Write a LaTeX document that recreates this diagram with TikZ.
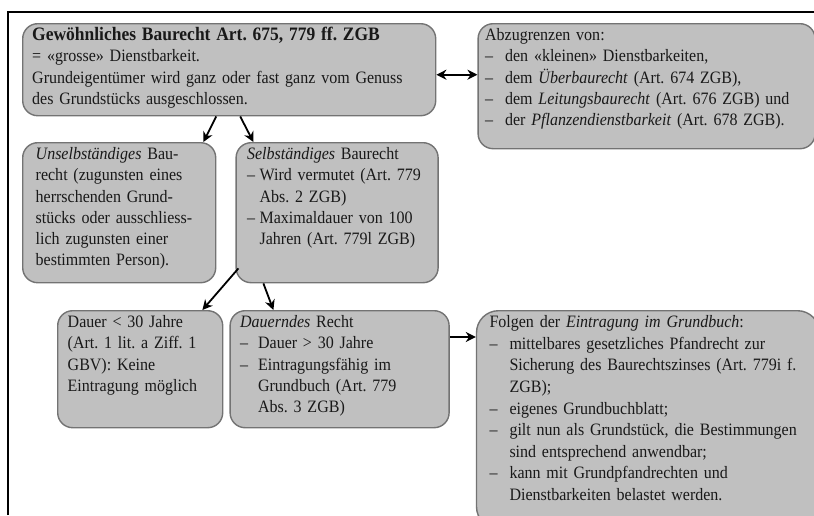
\documentclass[tikz,border=0pt]{standalone}
\usepackage{fontspec}
\setmainfont[FakeStretch=0.92]{Liberation Serif}
\usetikzlibrary{arrows.meta,positioning}
\definecolor{kastengrau}{RGB}{192,192,192}
\definecolor{rahmengrau}{RGB}{115,115,115}
\definecolor{schrift}{RGB}{25,25,25}
\newcommand{\strich}[1][20pt]{\makebox[#1][l]{–}}
\newcommand{\einzug}[1][20pt]{\hspace*{#1}}
\frenchspacing
\tikzset{
    %Define standard arrow tip
    >={Stealth[length=10pt,width=10pt]},
    %Define style for boxes
    kasten/.style={
           rectangle,
           rounded corners=15pt,
           draw=rahmengrau, line width=1.4pt,
           fill=kastengrau,
           anchor=north west,
           align=left,
           inner xsep=9pt, inner ysep=4pt,
           text height=13pt,
           text=schrift,
           font=\fontsize{17.4}{21.2}\selectfont},
    % Define arrow style
    pfeil/.style={
           ->,
           line width=1.8pt}
}

\begin{document}
\begin{tikzpicture}[x=1pt,y=-1pt]
\useasboundingbox (0,0) rectangle (814,515);

 %frame
\draw[line width=2.4pt] (8,515) -- (8,12) -- (814,12);

 %nodes
\node[kasten, inner xsep=9.5pt, text width=394pt, text depth=71pt] (top) at (22,23)
  {{\fontsize{19}{21.2}\selectfont\bfseries Gewöhnliches Baurecht Art. 675, 779 ff. ZGB}\\
   = «grosse» Dienstbarkeit.\\
   Grundeigentümer wird ganz oder fast ganz vom Genuss\\
   des Grundstücks ausgeschlossen.};
\node[kasten, inner xsep=7pt, text width=323pt, text depth=104pt] (abz) at ([xshift=41pt]top.north east)
  {Abzugrenzen von:\\
   \strich den «kleinen» Dienstbarkeiten,\\
   \strich dem \textit{Überbaurecht} (Art. 674 ZGB),\\
   \strich dem \textit{Leitungsbaurecht} (Art. 676 ZGB) und\\
   \strich der \textit{Pflanzendienstbarkeit} (Art. 678 ZGB).};
\node[kasten, inner xsep=13pt, text width=167pt, text depth=119pt] (unsel) at (22,142)
  {\textit{Unselbständiges} Bau-\\
   recht (zugunsten eines\\
   herrschenden Grund-\\
   stücks oder ausschliess-\\
   lich zugunsten einer\\
   bestimmten Person).};
\node[kasten, inner xsep=11pt, text width=180pt, text depth=119pt] (sel) at ([xshift=19pt]unsel.north east)
  {\textit{Selbständiges} Baurecht\\
   \strich[12.5pt]Wird vermutet (Art. 779\\
   \einzug[12.5pt]Abs. 2 ZGB)\\
   \strich[12.5pt]Maximaldauer von 100\\
   \einzug[12.5pt]Jahren (Art. 779l ZGB)};
\node[kasten, inner xsep=10pt, text width=145pt, text depth=96pt] (kurz) at (57,310)
  {Dauer < 30 Jahre\\
   (Art. 1 lit. a Ziff. 1\\
   GBV): Keine\\
   Eintragung möglich};
\node[kasten, inner xsep=10pt, text width=199pt, text depth=96pt] (dauernd) at ([xshift=6pt]kurz.north east)
  {\textit{Dauerndes} Recht\\
   \strich[18pt]Dauer > 30 Jahre\\
   \strich[18pt]Eintragungsfähig im\\
   \einzug[18pt]Grundbuch (Art. 779\\
   \einzug[18pt]Abs. 3 ZGB)};
\node[kasten, rounded corners=22pt, inner xsep=13pt, text width=317pt, text depth=197pt,
      font=\fontsize{17.4}{21.6}\selectfont] (folgen) at ([xshift=26pt]dauernd.north east)
  {Folgen der \textit{Eintragung im Grundbuch}:\\
   \strich mittelbares gesetzliches Pfandrecht zur\\
   \einzug Sicherung des Baurechtszinses (Art. 779i f.\\
   \einzug ZGB);\\
   \strich eigenes Grundbuchblatt;\\
   \strich gilt nun als Grundstück, die Bestimmungen\\
   \einzug sind entsprechend anwendbar;\\
   \strich kann mit Grundpfandrechten und\\
   \einzug Dienstbarkeiten belastet werden.};

 %connectors
\draw[<->, line width=1.8pt] ([yshift=-5pt]top.east) -- ([yshift=-5pt]top.east -| abz.west);
\draw[pfeil] ([xshift=-13pt]top.south) -- ([xshift=-13pt]unsel.north east);
\draw[pfeil] ([xshift=11pt]top.south) -- ([xshift=18pt]sel.north west);
\draw[pfeil] ([shift={(3pt,15pt)}]sel.south west) -- ([xshift=-21pt]kurz.north east);
\draw[pfeil] ([xshift=28pt]sel.south west) -- ([xshift=44pt]dauernd.north west);
\draw[pfeil] ([yshift=-27pt]dauernd.north east) -- ([yshift=-27pt]folgen.north west);

\end{tikzpicture}
\end{document}
